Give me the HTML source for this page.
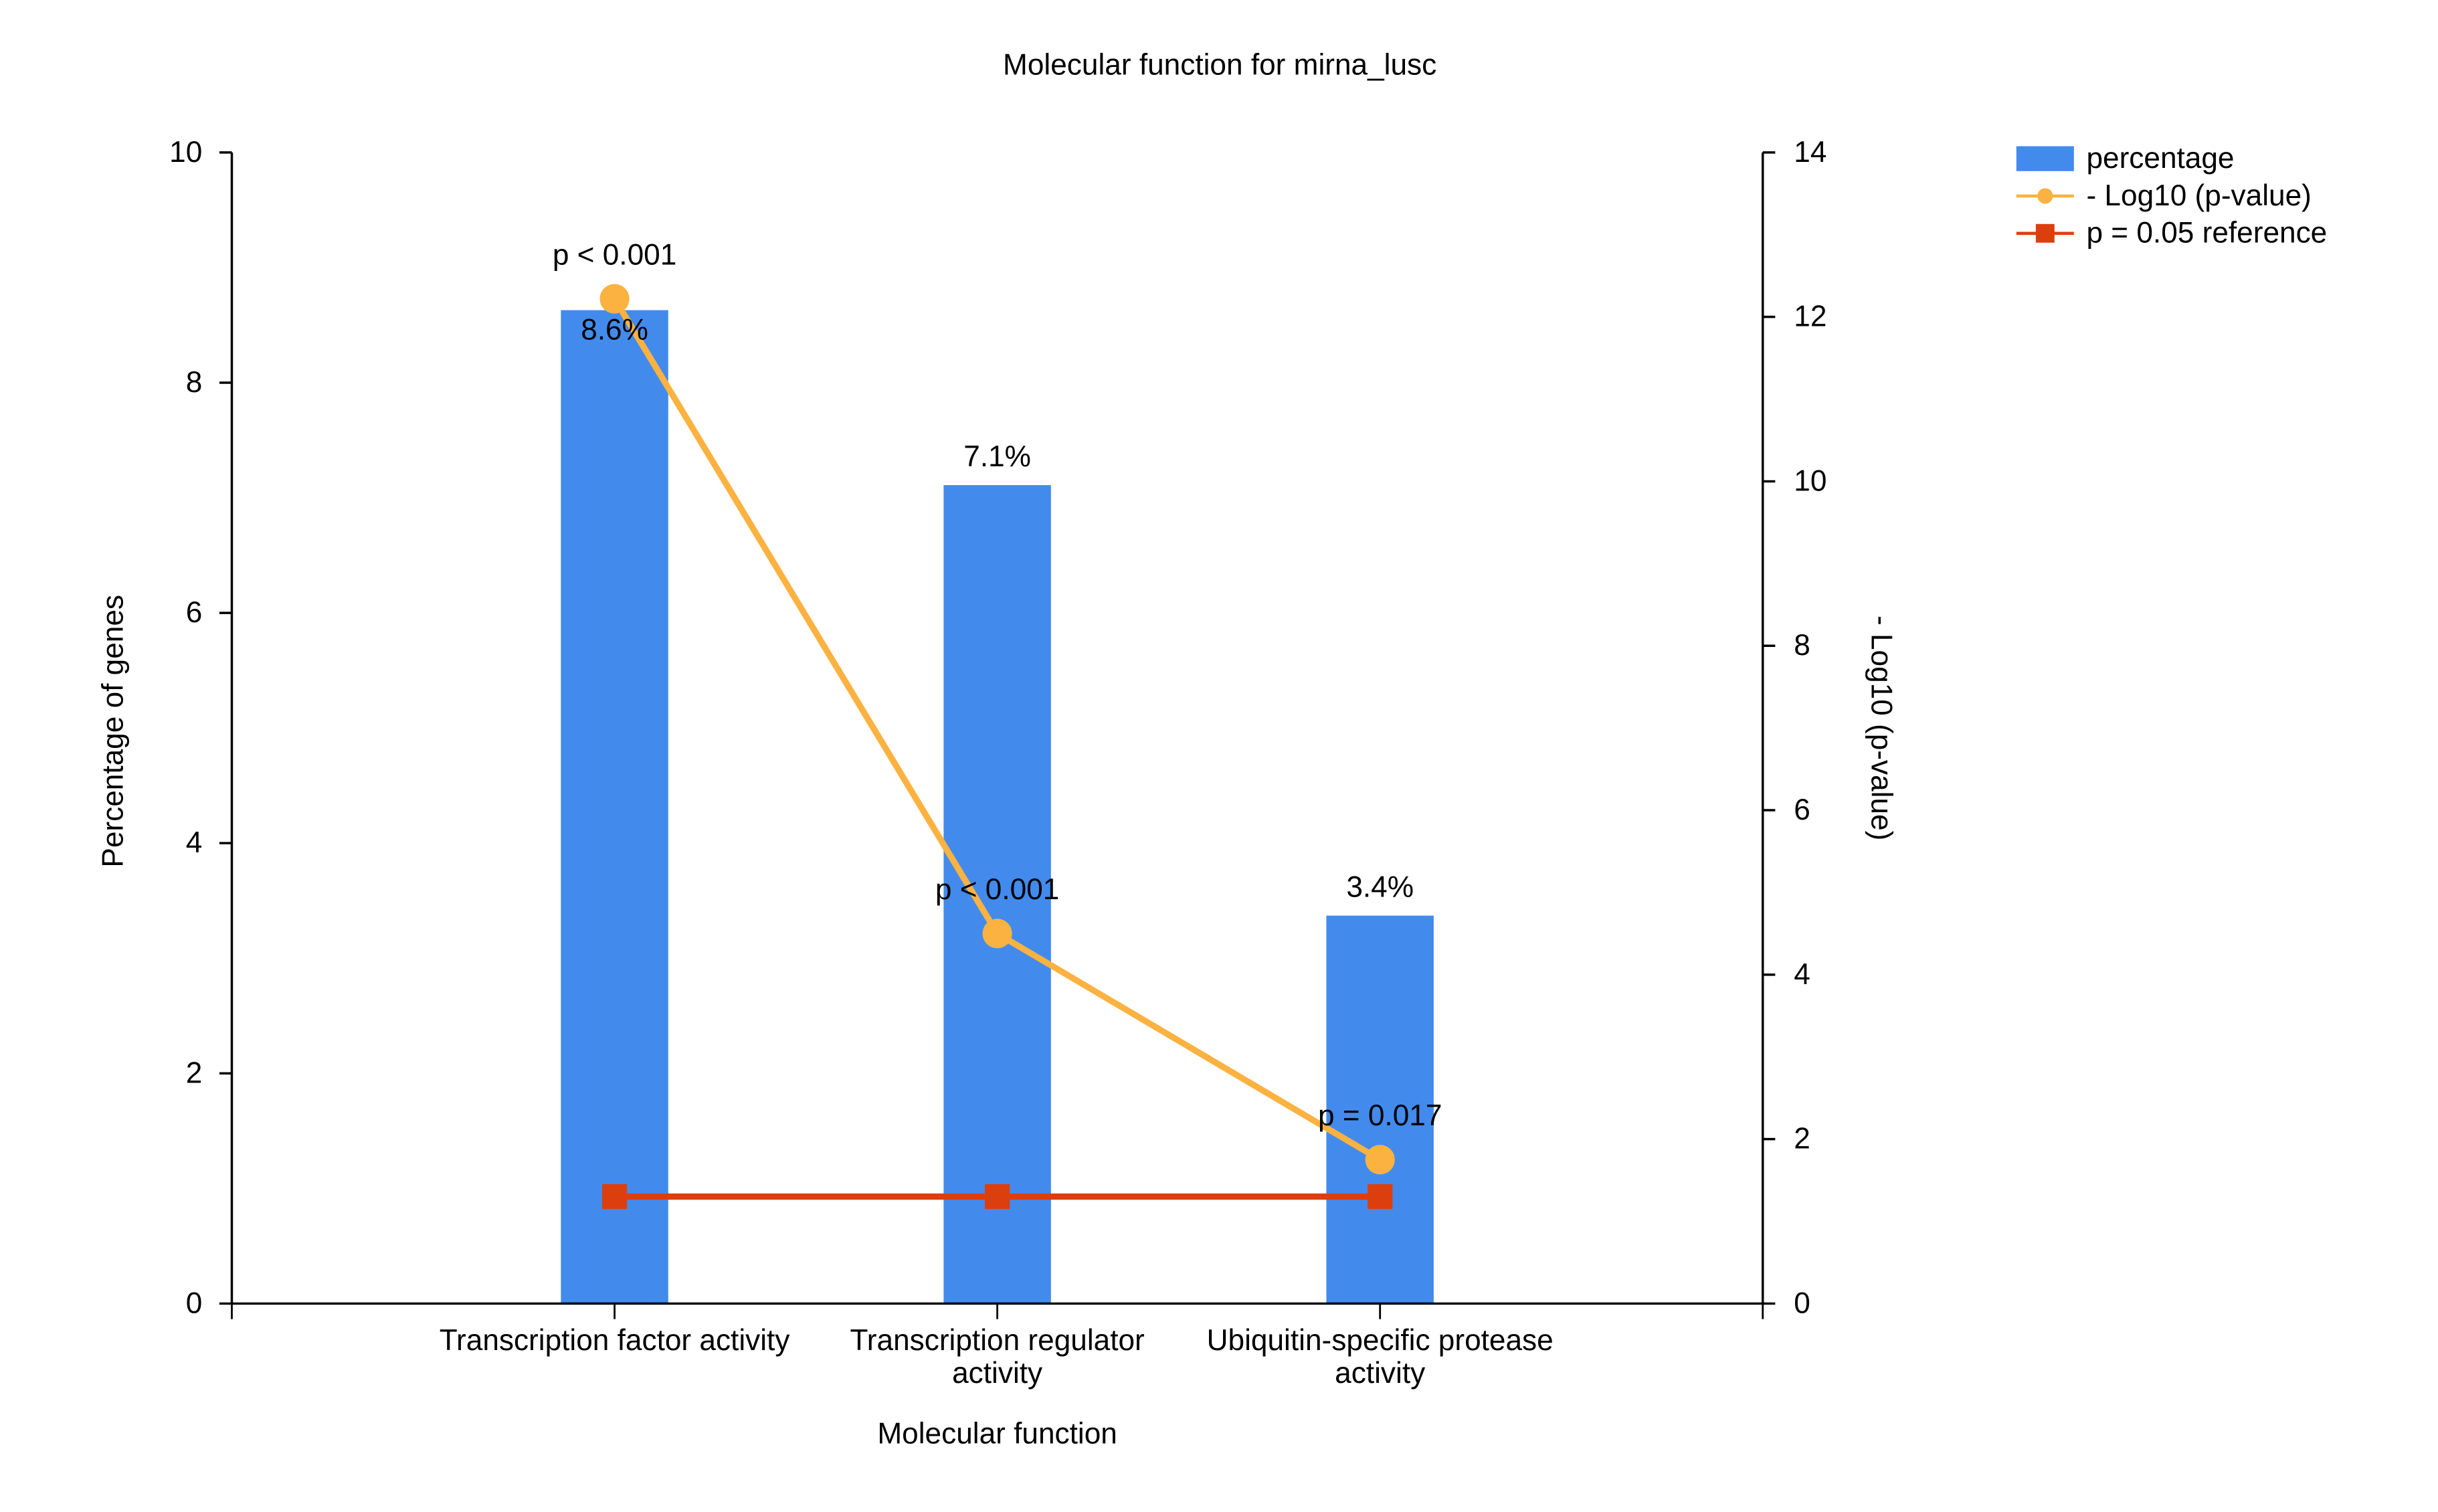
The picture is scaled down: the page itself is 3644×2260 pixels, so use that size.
<!DOCTYPE html>
<html><head><meta charset="utf-8"><style>
html,body{margin:0;padding:0;background:#fff;}
svg{display:block;font-family:"Liberation Sans",Arial,sans-serif;}
</style></head><body>
<svg id="chart" width="3644" height="2260" viewBox="0 0 1567 972" preserveAspectRatio="none" xmlns="http://www.w3.org/2000/svg">
<rect width="1567" height="972" fill="#fff"/>
<text x="784" y="48" font-size="19" text-anchor="middle">Molecular function for mirna_lusc</text>
<g id="plot"></g>
<text transform="translate(79,470) rotate(-90)" font-size="19" text-anchor="middle">Percentage of genes</text>
<text transform="translate(1203,468) rotate(90)" font-size="19" text-anchor="middle">- Log10 (p-value)</text>
<text x="641" y="928" font-size="19" text-anchor="middle">Molecular function</text>
<g>
<rect x="1296" y="94" width="37" height="16" fill="#428bed"/>
<text x="1341" y="108" font-size="19">percentage</text>
<line x1="1296" y1="126" x2="1333" y2="126" stroke="#fbb240" stroke-width="2"/>
<circle cx="1314.5" cy="126" r="5" fill="#fbb240"/>
<text x="1341" y="132" font-size="19">- Log10 (p-value)</text>
<line x1="1296" y1="150" x2="1333" y2="150" stroke="#dc3f0e" stroke-width="2"/>
<rect x="1308.5" y="144" width="12" height="12" fill="#dc3f0e"/>
<text x="1341" y="156" font-size="19">p = 0.05 reference</text>
</g>
</svg>
<script>
const categories = [["Transcription factor activity"],["Transcription regulator","activity"],["Ubiquitin-specific protease","activity"]];
const percentages = [8.63, 7.11, 3.37];
const percentLabels = ["8.6%","7.1%","3.4%"];
const log10p = [12.22, 4.5, 1.75];
const pLabels = ["p < 0.001","p < 0.001","p = 0.017"];
const refValue = 1.301;
const leftTicks = [0,2,4,6,8,10];
const rightTicks = [0,2,4,6,8,10,12,14];

const NS="http://www.w3.org/2000/svg";
const g=document.getElementById('plot');
const X0=149,X1=1133,Y0=838,Y1=98;
const FS=19;
const yL=v=>Y0-(v/10)*(Y0-Y1);
const yR=v=>Y0-(v/14)*(Y0-Y1);
const band=(X1-X0)/(categories.length+1);
const xC=i=>X0+band*(i+1);
function mk(tag,attrs,parent){const e=document.createElementNS(NS,tag);for(const k in attrs)e.setAttribute(k,attrs[k]);(parent||g).appendChild(e);return e;}

percentages.forEach((v,i)=>{
  const b=mk('rect',{x:xC(i)-34.5,y:yL(v),width:69,height:Y0-yL(v),fill:'#428bed'});
  
  
});
const ax=mk('path',{d:`M${X0},${Y1}V${Y0}H${X1}V${Y1}`,fill:'none',stroke:'#000','stroke-width':1.5});


leftTicks.forEach(t=>{
  const y=yL(t);
  mk('line',{x1:X0-8,x2:X0,y1:y,y2:y,stroke:'#000','stroke-width':1.5});
  const tx=mk('text',{x:X0-19,y:y+6,'font-size':FS,'text-anchor':'end'});tx.textContent=t;
  
  
});
rightTicks.forEach(t=>{
  const y=yR(t);
  mk('line',{x1:X1,x2:X1+8,y1:y,y2:y,stroke:'#000','stroke-width':1.5});
  const tx=mk('text',{x:X1+20,y:y+6,'font-size':FS});tx.textContent=t;
  
  
});
[X0,...categories.map((c,i)=>xC(i)),X1].forEach(x=>mk('line',{x1:x,x2:x,y1:Y0,y2:Y0+10,stroke:'#000','stroke-width':1.2}));
categories.forEach((c,i)=>{
  c.forEach((line,j)=>{
    const tx=mk('text',{x:xC(i),y:868+j*21,'font-size':FS,'text-anchor':'middle'});tx.textContent=line;
    
    
  });
});
const rl=mk('polyline',{points:categories.map((c,i)=>xC(i)+','+yR(refValue)).join(' '),fill:'none',stroke:'#dc3f0e','stroke-width':4});


categories.forEach((c,i)=>{
  const s=mk('rect',{x:xC(i)-8,y:yR(refValue)-8,width:16,height:16,fill:'#dc3f0e'});
  
  
});
const pl=mk('polyline',{points:log10p.map((v,i)=>xC(i)+','+yR(v)).join(' '),fill:'none',stroke:'#fbb240','stroke-width':4});


log10p.forEach((v,i)=>{
  const c=mk('circle',{cx:xC(i),cy:yR(v),r:9.5,fill:'#fbb240'});
  
  
});
percentages.forEach((v,i)=>{
  let y=yL(v)-12;
  if(Math.abs(yR(log10p[i])-yL(v))<30) y=yL(v)+19;
  const tx=mk('text',{x:xC(i),y:y,'font-size':FS,'text-anchor':'middle'});tx.textContent=percentLabels[i];
  
  
});
log10p.forEach((v,i)=>{
  const tx=mk('text',{x:xC(i),y:yR(v)-22,'font-size':FS,'text-anchor':'middle'});tx.textContent=pLabels[i];
  
  
});
</script>
</body></html>
